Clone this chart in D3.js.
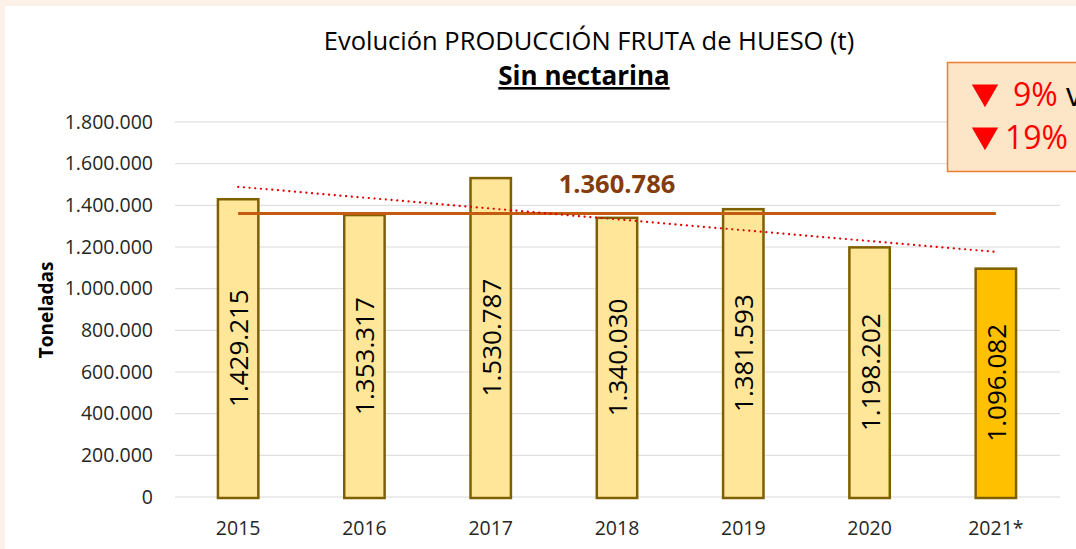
<!DOCTYPE html>
<html>
<head>
<meta charset="utf-8">
<script src="https://cdn.jsdelivr.net/npm/d3@7"></script>
<style>
  body { margin: 0; background: #fcf1e7; }
  svg { display: block; }
</style>
</head>
<body>
<svg id="chart" width="1076" height="549"></svg>
<script>
// data
var years = ["2015", "2016", "2017", "2018", "2019", "2020", "2021*"];
var toneladas = [1429215, 1353317, 1530787, 1340030, 1381593, 1198202, 1096082];
var media = 1360786;
var yTicks = [0, 200000, 400000, 600000, 800000, 1000000, 1200000, 1400000, 1600000, 1800000];
var notaPct = ["9%", "19%"];
var notaTxt = [" vs 2020", " vs media"];

var width = 1076, height = 549;
var svg = d3.select("#chart");
var font = "'Open Sans', sans-serif";

// thousands with dots, spanish style
var fmt = function(d) { return d3.format(",")(d).replace(/,/g, "."); };

// white panel
svg.append("rect")
  .attr("x", 5).attr("y", 6)
  .attr("width", width).attr("height", height)
  .attr("fill", "#ffffff");

var xScale = d3.scaleBand().domain(years).range([175, 1059])
  .paddingInner(0.68).paddingOuter(0.34);
var yScale = d3.scaleLinear().domain([0, 1800000]).range([497, 122]);

// grid lines
svg.append("g").selectAll("line")
  .data(yTicks)
  .enter().append("line")
  .attr("x1", 175).attr("x2", 1060)
  .attr("y1", function(d) { return yScale(d); })
  .attr("y2", function(d) { return yScale(d); })
  .attr("stroke", "#d9d9d9")
  .attr("stroke-width", 1);

// y axis labels
var yAxis = svg.append("g")
  .attr("transform", "translate(175,0)")
  .call(d3.axisLeft(yScale).tickValues(yTicks).tickFormat(fmt).tickSize(0).tickPadding(22));
yAxis.select(".domain").remove();
yAxis.selectAll("text")
  .attr("font-family", font).attr("font-size", 19.5).attr("fill", "#262626");

svg.append("text")
  .attr("transform", "translate(53,310) rotate(-90)")
  .attr("text-anchor", "middle")
  .attr("font-family", font).attr("font-size", 19).attr("font-weight", "bold")
  .attr("fill", "#000")
  .text("Toneladas");

// x axis labels
var xAxis = svg.append("g")
  .attr("transform", "translate(0,497)")
  .call(d3.axisBottom(xScale).tickSize(0).tickPadding(24));
xAxis.select(".domain").remove();
xAxis.selectAll("text")
  .attr("font-family", font).attr("font-size", 19.5).attr("fill", "#262626");

// bars
svg.append("g").selectAll("rect")
  .data(toneladas)
  .enter().append("rect")
  .attr("x", function(d, i) { return xScale(years[i]); })
  .attr("y", function(d) { return yScale(d); })
  .attr("width", xScale.bandwidth())
  .attr("height", function(d) { return yScale(0) - yScale(d) + 1; })
  .attr("fill", function(d, i) { return i == years.length - 1 ? "#ffc000" : "#ffe699"; })
  .attr("stroke", "#7f6000")
  .attr("stroke-width", 2.5);

// value labels inside bars
svg.append("g").selectAll("text")
  .data(toneladas)
  .enter().append("text")
  .attr("transform", function(d, i) {
    var cx = xScale(years[i]) + xScale.bandwidth() / 2;
    var cy = (yScale(d) + yScale(0)) / 2;
    return "translate(" + (cx + 10) + "," + cy + ") rotate(-90)";
  })
  .attr("text-anchor", "middle")
  .attr("font-family", font).attr("font-size", 26).attr("fill", "#000")
  .text(fmt);

// average line
var x0 = xScale(years[0]) + xScale.bandwidth() / 2;
var x1 = xScale(years[years.length - 1]) + xScale.bandwidth() / 2;
svg.append("line")
  .attr("x1", x0).attr("x2", x1)
  .attr("y1", yScale(media)).attr("y2", yScale(media))
  .attr("stroke", "#c55a11").attr("stroke-width", 3);

svg.append("text")
  .attr("x", xScale(years[3]) + xScale.bandwidth() / 2)
  .attr("y", yScale(media) - 21)
  .attr("text-anchor", "middle")
  .attr("font-family", font).attr("font-size", 25.5).attr("font-weight", "bold")
  .attr("fill", "#843c0c")
  .text(fmt(media));

// linear trend (least squares over the bars)
var n = toneladas.length;
var mx = (n - 1) / 2, my = d3.mean(toneladas);
var sxy = d3.sum(toneladas, function(d, i) { return (i - mx) * (d - my); });
var sxx = d3.sum(toneladas, function(d, i) { return (i - mx) * (i - mx); });
var slope = sxy / sxx;
svg.append("line")
  .attr("x1", x0).attr("x2", x1)
  .attr("y1", yScale(my - slope * mx))
  .attr("y2", yScale(my + slope * (n - 1 - mx)))
  .attr("stroke", "#e00000").attr("stroke-width", 2.2)
  .attr("stroke-dasharray", "0.1,5.6").attr("stroke-linecap", "round");

// title
svg.append("text")
  .attr("x", 589).attr("y", 50)
  .attr("text-anchor", "middle")
  .attr("font-family", font).attr("font-size", 25.5).attr("fill", "#000")
  .text("Evolución PRODUCCIÓN FRUTA de HUESO (t)");
svg.append("text")
  .attr("x", 584).attr("y", 85)
  .attr("text-anchor", "middle")
  .attr("font-family", font).attr("font-size", 26).attr("font-weight", "bold")
  .attr("text-decoration", "underline")
  .attr("fill", "#000")
  .text("Sin nectarina");

// note box
svg.append("rect")
  .attr("x", 947.5).attr("y", 62.5)
  .attr("width", 200).attr("height", 109)
  .attr("fill", "#fde5c8")
  .attr("stroke", "#ed7d31").attr("stroke-width", 1.5);

var notaY = [106, 149];
var notaX = [1013, 1005];
svg.append("g").selectAll("path")
  .data(notaPct)
  .enter().append("path")
  .attr("d", d3.symbol(d3.symbolTriangle, 300))
  .attr("transform", function(d, i) { return "translate(985," + (notaY[i] - 14) + ") rotate(180)"; })
  .attr("fill", "#ff0000");

var nota = svg.append("g").selectAll("text")
  .data(notaPct)
  .enter().append("text")
  .attr("x", function(d, i) { return notaX[i]; })
  .attr("y", function(d, i) { return notaY[i]; })
  .attr("font-family", font).attr("font-size", 32);
nota.append("tspan").attr("fill", "#ff0000").text(function(d) { return d; });
nota.append("tspan").attr("fill", "#000").text(function(d, i) { return notaTxt[i]; });
</script>
</body>
</html>
